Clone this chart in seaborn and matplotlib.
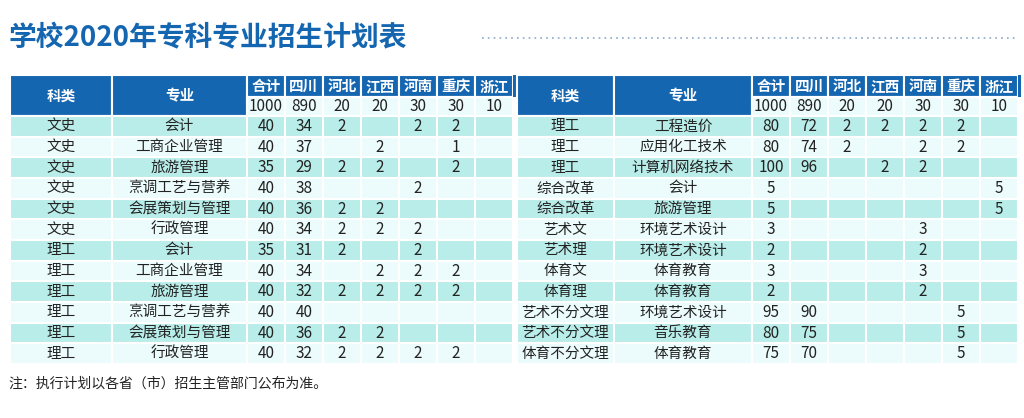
import matplotlib
matplotlib.use("Agg")
import matplotlib.pyplot as plt
from matplotlib.patches import Rectangle
import seaborn as sns

sns.set_theme(style="white")
plt.rcParams['font.family'] = ['Noto Sans CJK SC', 'DejaVu Sans']

title = "学校2020年专科专业招生计划表"
provinces = ["合计", "四川", "河北", "江西", "河南", "重庆", "浙江"]
totals = ["1000", "890", "20", "20", "30", "30", "10"]

left_cat = ["文史"] * 6 + ["理工"] * 6
left_major = ["会计", "工商企业管理", "旅游管理", "烹调工艺与营养", "会展策划与管理", "行政管理"] * 2
left_vals = [
    ["40", "34", "2", "", "2", "2", ""],
    ["40", "37", "", "2", "", "1", ""],
    ["35", "29", "2", "2", "", "2", ""],
    ["40", "38", "", "", "2", "", ""],
    ["40", "36", "2", "2", "", "", ""],
    ["40", "34", "2", "2", "2", "", ""],
    ["35", "31", "2", "", "2", "", ""],
    ["40", "34", "", "2", "2", "2", ""],
    ["40", "32", "2", "2", "2", "2", ""],
    ["40", "40", "", "", "", "", ""],
    ["40", "36", "2", "2", "", "", ""],
    ["40", "32", "2", "2", "2", "2", ""],
]
right_cat = ["理工", "理工", "理工", "综合改革", "综合改革", "艺术文", "艺术理",
             "体育文", "体育理", "艺术不分文理", "艺术不分文理", "体育不分文理"]
right_major = ["工程造价", "应用化工技术", "计算机网络技术", "会计", "旅游管理", "环境艺术设计",
               "环境艺术设计", "体育教育", "体育教育", "环境艺术设计", "音乐教育", "体育教育"]
right_vals = [
    ["80", "72", "2", "2", "2", "2", ""],
    ["80", "74", "2", "", "2", "2", ""],
    ["100", "96", "", "2", "2", "", ""],
    ["5", "", "", "", "", "", "5"],
    ["5", "", "", "", "", "", "5"],
    ["3", "", "", "", "3", "", ""],
    ["2", "", "", "", "2", "", ""],
    ["3", "", "", "", "3", "", ""],
    ["2", "", "", "", "2", "", ""],
    ["95", "90", "", "", "", "5", ""],
    ["80", "75", "", "", "", "5", ""],
    ["75", "70", "", "", "", "5", ""],
]
note = "注：执行计划以各省（市）招生主管部门公布为准。"

BLUE = "#1566b0"
ODD = "#b9ede9"
EVEN = "#ecfbfb"
TXT = "#222222"

fig = plt.figure(figsize=(10.24, 4.18), dpi=100)
ax = fig.add_axes([0, 0, 1, 1])
ax.set_xlim(0, 1024)
ax.set_ylim(418, 0)
ax.axis("off")

ax.text(8, 38, title, fontsize=20, fontweight="bold", color=BLUE, va="center", ha="left")
ax.plot([482, 1018], [38, 38], ls=(0, (1, 2.5)), color="#8aa8c8", lw=1.2)

y_h1, y_h2, y_b = 75, 97, 116
row_h = (364 - y_b) / 12

def cell(x0, x1, y0, y1, color, text="", tc=TXT, bold=False, fs=10.5):
    ax.add_patch(Rectangle((x0, y0), x1 - x0, y1 - y0, facecolor=color,
                           edgecolor="white", lw=1.5))
    if text:
        ax.text((x0 + x1) / 2, (y0 + y1) / 2, text, ha="center", va="center",
                color=tc, fontsize=fs, fontweight="bold" if bold else "normal")

def table(x0, cats, majors, vals, w_cat, w_major, w_num):
    xs = [x0, x0 + w_cat, x0 + w_cat + w_major]
    for i in range(7):
        xs.append(xs[-1] + w_num)
    cell(xs[0], xs[1], y_h1, y_b, BLUE, "科类", "white", True, 10.5)
    cell(xs[1], xs[2], y_h1, y_b, BLUE, "专业", "white", True, 10.5)
    for j in range(7):
        cell(xs[2 + j], xs[3 + j], y_h1, y_h2, BLUE, provinces[j], "white", True, 10.5)
        cell(xs[2 + j], xs[3 + j], y_h2, y_b, EVEN, totals[j], TXT, False, 11)
    for i in range(len(cats)):
        y0 = y_b + i * row_h
        y1 = y0 + row_h
        c = ODD if i % 2 == 0 else EVEN
        cell(xs[0], xs[1], y0, y1, c, cats[i])
        cell(xs[1], xs[2], y0, y1, c, majors[i])
        for j in range(7):
            cell(xs[2 + j], xs[3 + j], y0, y1, c, vals[i][j], TXT, False, 11)
    # blue right border strip
    ax.add_patch(Rectangle((xs[-1], y_h1), 3, y_h2 - y_h1, facecolor=BLUE, edgecolor="none"))

table(10, left_cat, left_major, left_vals, 102, 135, 38)
table(517, right_cat, right_major, right_vals, 97, 138, 38)

ax.text(8, 384, note, fontsize=10, color=TXT, va="center", ha="left")
fig.savefig("out.png", dpi=100)
